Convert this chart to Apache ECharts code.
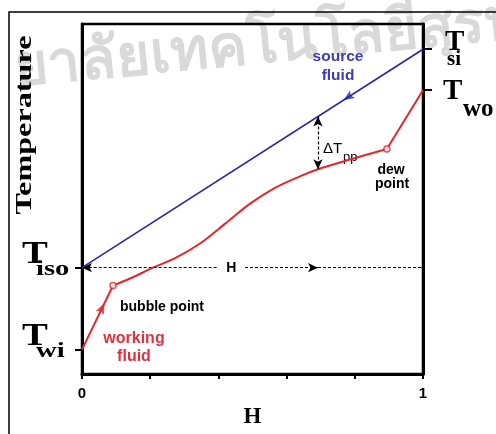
<!DOCTYPE html>
<html><head><meta charset="utf-8">
<script src="https://cdn.jsdelivr.net/npm/echarts@6/dist/echarts.min.js"></script>
<style>html,body{margin:0;padding:0;background:#fff}#c{width:496px;height:434px}</style>
</head><body><div id="c"></div>
<script>
// ---- data ----
const xTicks = [0, 0.2, 0.4, 0.6, 0.8, 1];
const xTickLabels = ['0', '', '', '', '', '1'];
const leftTickValues = [30.4, 7.0];      // T_iso, T_wi
const leftTickSubs = ['iso', 'wi'];
const rightTickValues = [92.8, 81.1];    // T_si, T_wo
const rightTickSubs = ['si', 'wo'];
const sourceH = [0, 1];
const sourceT = [30.4, 92.8];
const liquidH = [0, 0.091];
const liquidT = [7.0, 25.3];
const twoPhaseH = [0.091, 0.141, 0.208, 0.273, 0.346, 0.419, 0.493, 0.566, 0.639, 0.692, 0.786, 0.894];
const twoPhaseT = [25.3, 27.3, 30.4, 33.1, 37.3, 42.9, 48.7, 53.2, 56.5, 58.5, 61.3, 64.3];
const vapourH = [0.894, 1];
const vapourT = [64.3, 81.1];
const pinchH = 0.692;
const pinchSourceT = 73.6;
const pinchWorkT = 58.5;

// ---- style ----
const BLUE = '#2828a2', RED = '#e3262e', TXTRED = '#d9343f', TXTBLUE = '#3d3dae';
const SANS = '"Liberation Sans", Arial, sans-serif';
const SERIF = '"Liberation Serif", "Times New Roman", serif';
const pairs = (a, b) => a.map((v, i) => [v, b[i]]);
const GW = 341, GH = 359;
const rotFor = (dx, dy) => Math.atan2(dy * GH / 100, dx * GW) * 180 / Math.PI - 90;
const ARROW = 'path://M5,0 L10,12 L5,9.5 L0,12 Z';
const Tiso = leftTickValues[0];

const chart = echarts.init(document.getElementById('c'));
chart.setOption({
  animation: false,
  grid: { left: 82, top: 24, width: GW, height: GH, show: true, borderColor: '#000', borderWidth: 2.5, backgroundColor: 'transparent' },
  xAxis: {
    type: 'value', min: 0, max: 1, interval: 0.2,
    axisLine: { lineStyle: { color: '#000', width: 3 } },
    axisTick: { show: true, length: 5, lineStyle: { color: '#000', width: 2 } },
    axisLabel: { formatter: v => xTickLabels[xTicks.findIndex(t => Math.abs(t - v) < 1e-6)] || '', color: '#000', fontFamily: SANS, fontWeight: 'bold', fontSize: 15, margin: 12 },
    splitLine: { show: false },
    name: 'H', nameLocation: 'middle', nameGap: 24,
    nameTextStyle: { fontFamily: SERIF, fontWeight: 'bold', fontSize: 23, color: '#000' }
  },
  yAxis: [{
    type: 'value', min: 0, max: 100, position: 'left',
    axisLine: { show: true, lineStyle: { color: '#000', width: 3 } },
    axisTick: { show: true, length: 7, customValues: leftTickValues, lineStyle: { color: '#000', width: 2 } },
    axisLabel: { show: false }, splitLine: { show: false }
  }, {
    type: 'value', min: 0, max: 100, position: 'right',
    axisLine: { show: true, lineStyle: { color: '#000', width: 3 } },
    axisTick: { show: true, length: 9, customValues: rightTickValues, lineStyle: { color: '#000', width: 2 } },
    axisLabel: { show: false }, splitLine: { show: false }
  }],
  series: [
    { type: 'line', data: pairs(sourceH, sourceT), showSymbol: false, lineStyle: { color: BLUE, width: 1.6 }, z: 3, silent: true,
      markLine: {
        silent: true, animation: false, symbol: ['none', 'arrow'], symbolSize: [7, 10],
        label: { show: false }, emphasis: { disabled: true },
        lineStyle: { color: '#000', type: [3, 2], width: 1.2 },
        data: [
          [{ coord: [0.395, Tiso] }, { coord: [0, Tiso] }],
          [{ coord: [0.478, Tiso] }, { coord: [pinchH, Tiso] }],
          [{ coord: [pinchH, Tiso] }, { coord: [1, Tiso], symbol: 'circle', symbolSize: 3 }],
          [{ coord: [pinchH, pinchSourceT], symbol: 'arrow' }, { coord: [pinchH, pinchWorkT] }]
        ]
      } },
    { type: 'line', data: pairs(liquidH, liquidT), showSymbol: false, lineStyle: { color: RED, width: 2 }, silent: true },
    { type: 'line', data: pairs(twoPhaseH, twoPhaseT), smooth: 0.35, showSymbol: false, lineStyle: { color: RED, width: 2 }, silent: true },
    { type: 'line', data: pairs(vapourH, vapourT), showSymbol: false, lineStyle: { color: RED, width: 2 }, silent: true },
    { type: 'scatter', data: [[liquidH[1], liquidT[1]], [vapourH[0], vapourT[0]]], symbol: 'circle', symbolSize: 6,
      itemStyle: { color: '#fff', borderColor: RED, borderWidth: 1.5 }, z: 5, silent: true },
    { type: 'scatter', silent: true, z: 6, symbol: ARROW, symbolSize: [9, 11],
      data: [
        { value: [0.78, sourceT[0] + 0.78 * (sourceT[1] - sourceT[0])], symbolRotate: rotFor(-(sourceH[1] - sourceH[0]), -(sourceT[1] - sourceT[0])), itemStyle: { color: BLUE } },
        { value: [0.059, liquidT[0] + 0.059 / liquidH[1] * (liquidT[1] - liquidT[0])], symbolRotate: rotFor(liquidH[1] - liquidH[0], liquidT[1] - liquidT[0]), itemStyle: { color: RED } }
      ] }
  ]
});

const yPx = (v) => chart.convertToPixel({ yAxisIndex: 0 }, v);
const xPx = (v) => chart.convertToPixel({ xAxisIndex: 0 }, v);
const t = (x, y, text, font, fill, extra, align) => Object.assign({ type: 'text', x: x, y: y, silent: true,
  style: { text: text, font: font, fill: fill || '#000', align: align || 'left', verticalAlign: 'middle' } }, extra || {});

const g = [];
// outer frame
g.push({ type: 'rect', shape: { x: 9, y: 12, width: 700, height: 700 }, style: { fill: 'none', stroke: '#000', lineWidth: 1.5 }, silent: true });
// watermark
g.push(t(14, 70, 'ยาลัยเทคโนโลยีสุรนารี', 'bold 58px "Noto Sans", sans-serif', 'rgba(0,0,0,0.15)', { rotation: 5.5 * Math.PI / 180, z: 0 }));
// y title
g.push({ type: 'text', x: 25, y: 125, rotation: Math.PI / 2, scaleX: 1.4, silent: true,
  style: { text: 'Temperature', font: 'bold 23px ' + SERIF, fill: '#000', align: 'center', verticalAlign: 'middle' } });
// left tick labels
leftTickValues.forEach((v, i) => {
  const y = yPx(v);
  g.push(t(22, y - 13, 'T', 'bold 31px ' + SERIF, '#000', { scaleX: 1.25 }));
  g.push(t(36, y + 2, leftTickSubs[i], 'bold 22px ' + SERIF, '#000', { scaleX: 1.3 }));
});
// right tick labels
{
  const y0 = yPx(rightTickValues[0]), y1 = yPx(rightTickValues[1]);
  g.push(t(445, y0 - 7, 'T', 'bold 29px ' + SERIF));
  g.push(t(447, y0 + 10, rightTickSubs[0], 'bold 21px ' + SERIF));
  g.push(t(443, y1 + 1.5, 'T', 'bold 29px ' + SERIF));
  g.push(t(463, y1 + 19, rightTickSubs[1], 'bold 25px ' + SERIF));
}
// annotations
g.push(t(338, 57, 'source', 'bold 15.5px ' + SANS, TXTBLUE, null, 'center'));
g.push(t(338, 76, 'fluid', 'bold 15.5px ' + SANS, TXTBLUE, null, 'center'));
g.push(t(391, 170, 'dew', 'bold 14px ' + SANS, '#000', null, 'center'));
g.push(t(392, 184, 'point', 'bold 14px ' + SANS, '#000', null, 'center'));
g.push(t(120, 307, 'bubble point', 'bold 14px ' + SANS));
g.push(t(134, 339, 'working', 'bold 16px ' + SANS, TXTRED, null, 'center'));
g.push(t(134, 357, 'fluid', 'bold 16px ' + SANS, TXTRED, null, 'center'));
g.push(t(323, 149, 'ΔT', '15px ' + SANS));
g.push(t(343, 157, 'pp', '13px ' + SANS));
g.push(t(xPx(0.438), yPx(Tiso), 'H', 'bold 14px ' + SANS, '#000', null, 'center'));
chart.setOption({ graphic: g });
</script>
</body></html>
